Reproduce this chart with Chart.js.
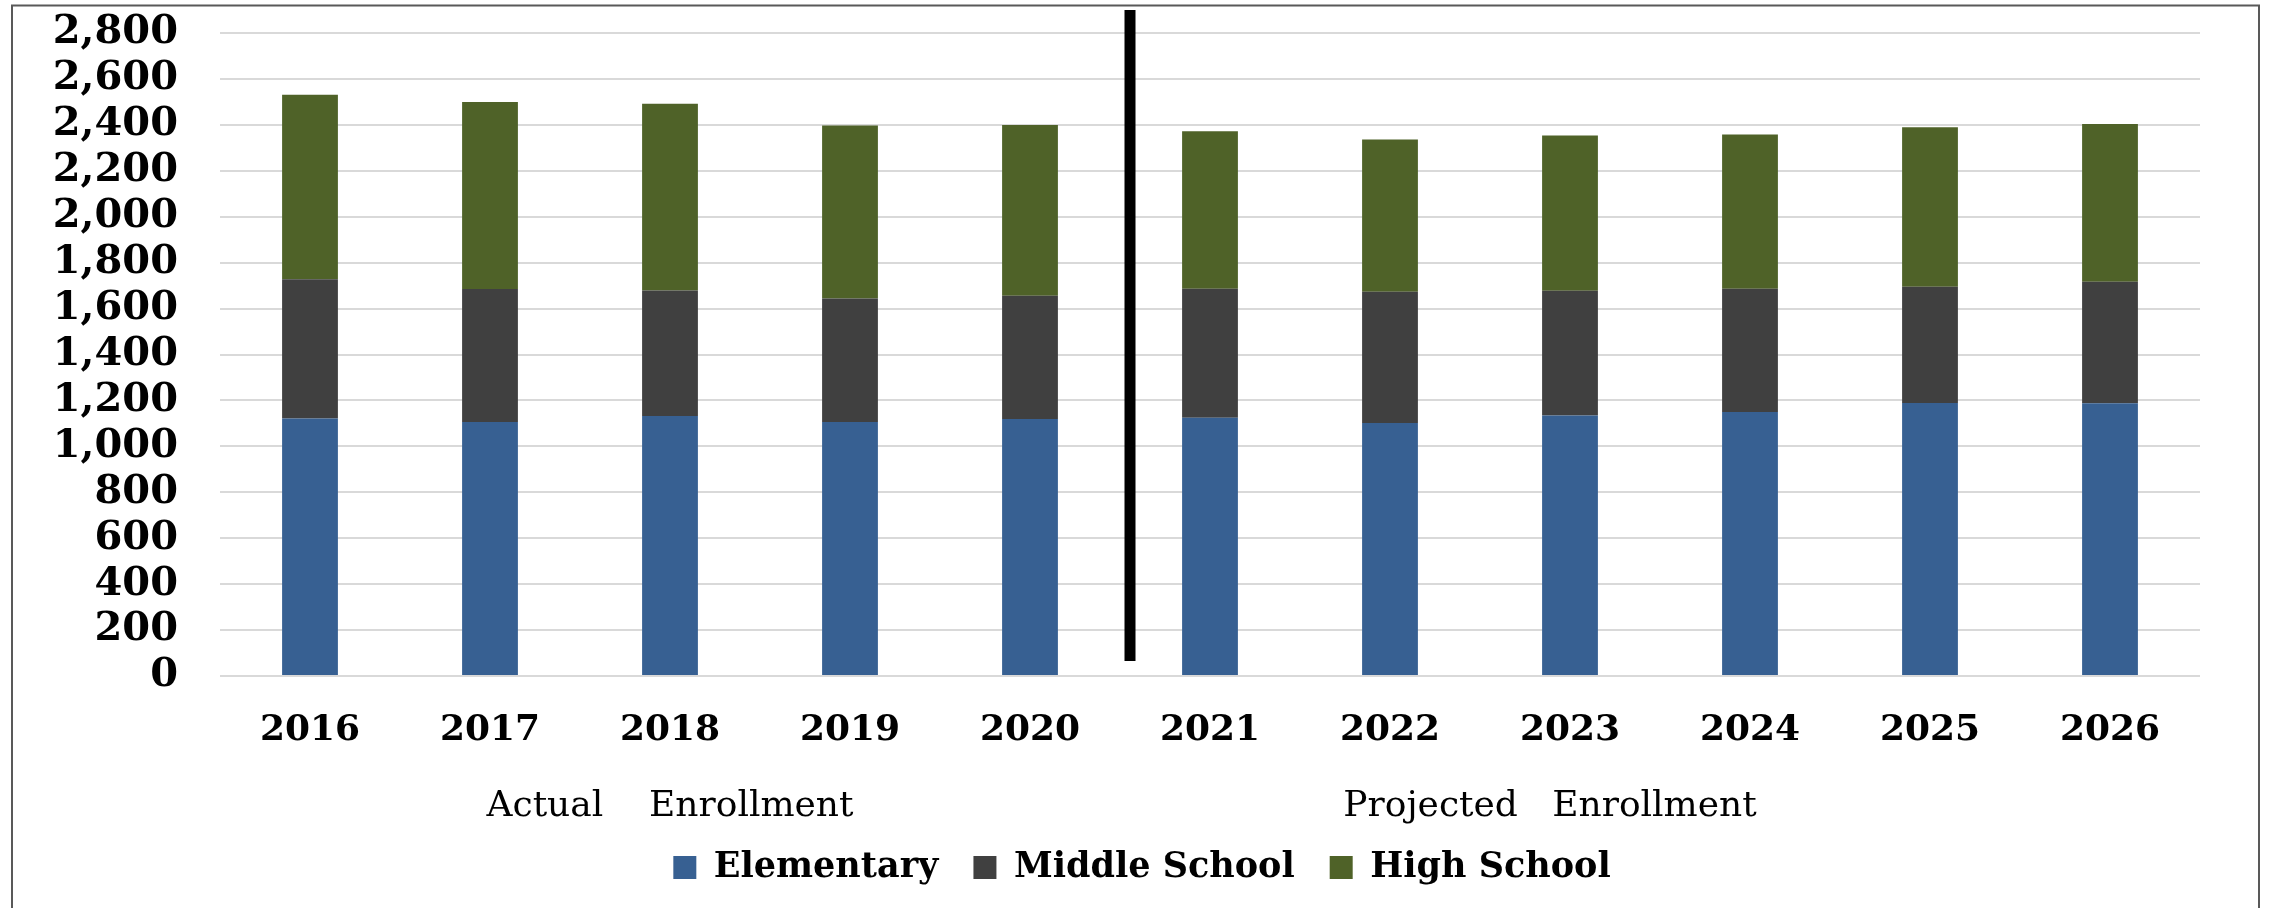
<!DOCTYPE html>
<html>
<head>
<meta charset="utf-8">
<script src="https://cdn.jsdelivr.net/npm/chart.js@4/dist/chart.umd.min.js"></script>
<style>
  html, body { margin: 0; padding: 0; background: #fff; }
  #wrap { width: 2270px; height: 908px; }
</style>
</head>
<body>
<div id="wrap"><canvas id="enrollChart" width="2270" height="908"></canvas></div>
<script>
// enrollment by school level, actual 2016-2020, projected 2021-2026
var years = ['2016', '2017', '2018', '2019', '2020', '2021', '2022', '2023', '2024', '2025', '2026'];
var elementary = [1121, 1106, 1132, 1106, 1119, 1125, 1102, 1134, 1150, 1189, 1188];
var middleSchool = [607, 579, 547, 538, 537, 561, 571, 544, 536, 506, 529];
var highSchool = [803, 814, 813, 753, 743, 686, 663, 676, 672, 695, 687];
var periodNotes = ['Actual    Enrollment', 'Projected   Enrollment'];
var yMax = 2800;
var yStep = 200;

var serif = '"DejaVu Serif", "Liberation Serif", serif';

const frameAndNotes = {
    id: 'frameAndNotes',
    beforeDraw(chart) {
        const ctx = chart.ctx;
        ctx.save();
        ctx.fillStyle = '#fff';
        ctx.fillRect(0, 0, chart.width, chart.height);
        ctx.strokeStyle = '#595959';
        ctx.lineWidth = 2;
        ctx.beginPath();
        ctx.moveTo(12, chart.height);
        ctx.lineTo(12, 5.5);
        ctx.lineTo(chart.width - 11, 5.5);
        ctx.lineTo(chart.width - 11, chart.height);
        ctx.stroke();
        ctx.restore();
    },
    afterDraw(chart) {
        const ctx = chart.ctx;
        const x = chart.scales.x;
        const area = chart.chartArea;
        // divider between actual and projected years
        const divX = (x.getPixelForValue(4) + x.getPixelForValue(5)) / 2 + 10;
        ctx.save();
        ctx.fillStyle = '#000';
        ctx.fillRect(divX - 5.5, area.top - 23, 11, (area.bottom - 15) - (area.top - 23));
        ctx.font = '36px ' + serif;
        ctx.textAlign = 'center';
        ctx.textBaseline = 'alphabetic';
        ctx.fillText(periodNotes[0], x.getPixelForValue(2), area.bottom + 140);
        ctx.fillText(periodNotes[1], x.getPixelForValue(7) - 20, area.bottom + 140);
        ctx.restore();
    }
};

const ctx = document.getElementById('enrollChart').getContext('2d');
new Chart(ctx, {
    type: 'bar',
    data: {
        labels: years,
        datasets: [
            { label: 'Elementary', data: elementary, backgroundColor: '#376092' },
            { label: 'Middle School', data: middleSchool, backgroundColor: '#404040' },
            { label: 'High School', data: highSchool, backgroundColor: '#4f6228' },
        ],
    },
    options: {
        responsive: false,
        animation: false,
        devicePixelRatio: 1,
        layout: { padding: { left: 20, right: 6, top: 33, bottom: 13 } },
        datasets: { bar: { categoryPercentage: 1, barPercentage: 0.31 } },
        plugins: {
            legend: {
                position: 'bottom',
                labels: {
                    color: '#000',
                    font: { family: serif, size: 35, weight: 'bold' },
                    boxWidth: 23,
                    boxHeight: 23,
                    padding: 35,
                },
            },
            tooltip: { enabled: false },
        },
        scales: {
            x: {
                stacked: true,
                afterFit(scale) { scale.height = 139; },
                grid: { display: false, drawTicks: false },
                border: { display: false },
                ticks: {
                    color: '#000',
                    padding: 33,
                    font: { family: serif, size: 36, weight: 'bold' },
                },
            },
            y: {
                stacked: true,
                min: 0,
                max: yMax,
                afterFit(scale) { scale.width = 200; },
                grid: {
                    color: '#d9d9d9',
                    lineWidth: 2,
                    drawTicks: true,
                    tickLength: 42,
                    tickColor: 'rgba(0,0,0,0)',
                },
                border: { display: false },
                ticks: {
                    stepSize: yStep,
                    autoSkip: false,
                    color: '#000',
                    padding: 0,
                    font: { family: serif, size: 40, weight: 'bold' },
                    callback: (v) => v.toLocaleString('en-US'),
                },
            },
            // empty right-hand spacer so the legend sits where the original one does
            spacer: {
                type: 'linear',
                position: 'right',
                afterFit(scale) { scale.width = 64; },
                grid: { display: false },
                border: { display: false },
                ticks: { display: false },
            },
        },
    },
    plugins: [frameAndNotes],
});
</script>
</body>
</html>
